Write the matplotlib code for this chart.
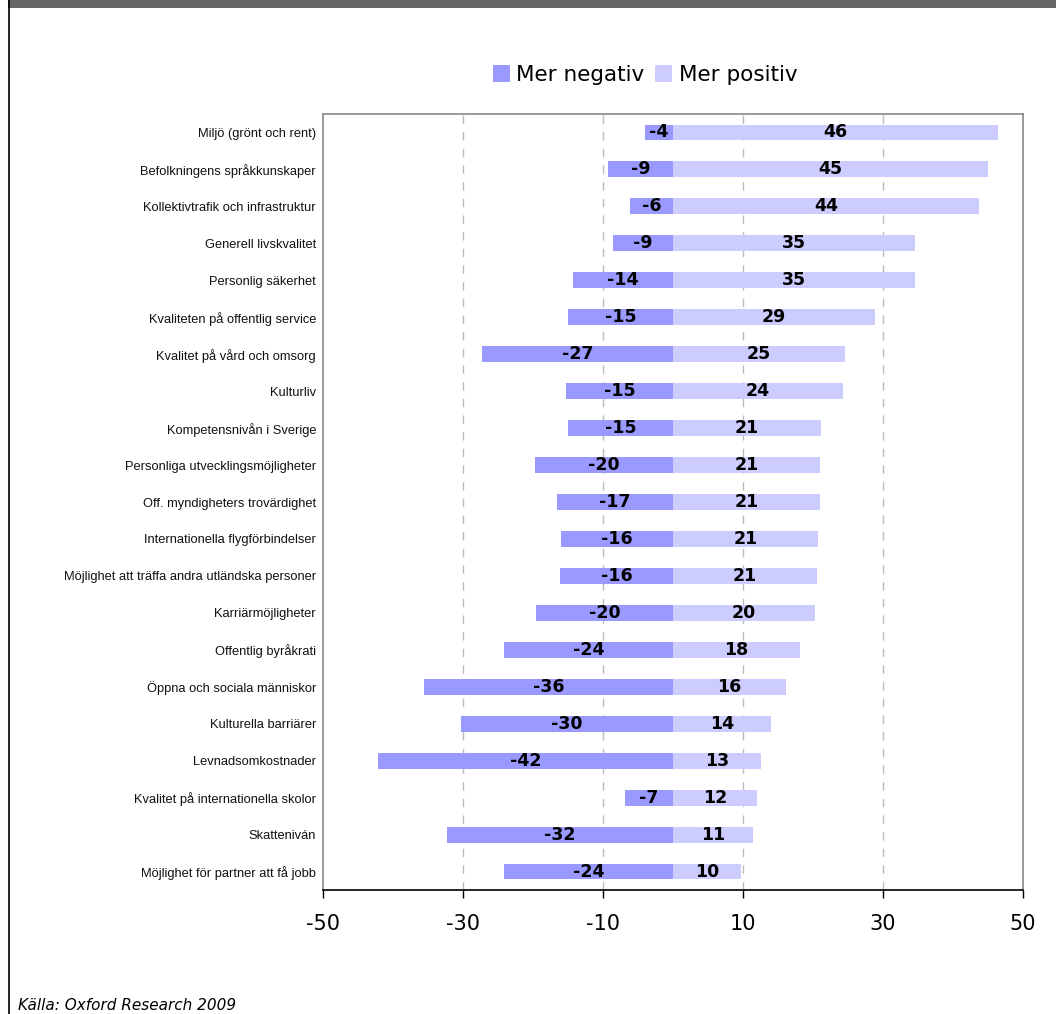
import matplotlib
matplotlib.use("Agg")
import matplotlib.pyplot as plt
from matplotlib.patches import Rectangle
from matplotlib.lines import Line2D

categories = [
    "Miljö (grönt och rent)",
    "Befolkningens språkkunskaper",
    "Kollektivtrafik och infrastruktur",
    "Generell livskvalitet",
    "Personlig säkerhet",
    "Kvaliteten på offentlig service",
    "Kvalitet på vård och omsorg",
    "Kulturliv",
    "Kompetensnivån i Sverige",
    "Personliga utvecklingsmöjligheter",
    "Off. myndigheters trovärdighet",
    "Internationella flygförbindelser",
    "Möjlighet att träffa andra utländska personer",
    "Karriärmöjligheter",
    "Offentlig byråkrati",
    "Öppna och sociala människor",
    "Kulturella barriärer",
    "Levnadsomkostnader",
    "Kvalitet på internationella skolor",
    "Skatteniván",
    "Möjlighet för partner att få jobb",
]
negative = [-4.0, -9.3, -6.1, -8.6, -14.3, -15.0, -27.3, -15.3, -15.0, -19.7, -16.6,
            -16.0, -16.1, -19.6, -24.1, -35.6, -30.3, -42.1, -6.9, -32.3, -24.1]
positive = [46.4, 45.0, 43.7, 34.6, 34.6, 28.9, 24.6, 24.3, 21.1, 21.0, 21.0,
            20.7, 20.6, 20.3, 18.1, 16.1, 14.0, 12.6, 12.0, 11.4, 9.7]
xticks = [-50, -30, -10, 10, 30, 50]

col_neg = "#9999ff"
col_pos = "#ccccff"

fig = plt.figure(figsize=(10.56, 10.14), dpi=100)
W, H = 1056, 1014

# top band and left border
fig.patches.append(Rectangle((8 / W, 1 - 8 / H), 1 - 8 / W, 8 / H, transform=fig.transFigure,
                             facecolor="#666666", edgecolor="none"))
fig.lines.append(Line2D([8.5 / W, 8.5 / W], [0, 1], transform=fig.transFigure,
                        color="black", lw=1.2))

ax = fig.add_axes([323 / W, 1 - 890 / H, 700 / W, (890 - 114) / H])
y = list(range(len(categories)))
h = 0.43
ax.barh(y, negative, height=h, color=col_neg, label="Mer negativ", zorder=3)
ax.barh(y, positive, height=h, color=col_pos, label="Mer positiv", zorder=3)

for i, (n, p) in enumerate(zip(negative, positive)):
    ax.text(n / 2, i, f"{round(n)}", ha="center", va="center", fontsize=12.5,
            fontweight="bold", family="DejaVu Sans", zorder=4)
    ax.text(p / 2, i, f"{round(p)}", ha="center", va="center", fontsize=12.5,
            fontweight="bold", family="DejaVu Sans", zorder=4)

ax.set_xlim(-50, 50)
ax.set_ylim(len(categories) - 0.5, -0.5)
ax.set_xticks(xticks)
ax.set_xticklabels([str(t) for t in xticks], fontsize=15, family="DejaVu Sans")
ax.set_yticks(y)
ax.set_yticklabels(categories, fontsize=9.3, family="Liberation Sans", color="#111111")
ax.tick_params(axis="y", length=0, pad=5)
ax.tick_params(axis="x", direction="out", length=6, width=1, color="black", pad=11)
for t in xticks[1:-1]:
    ax.axvline(t, color="#bbbbbb", lw=1, ls=(0, (6, 6)), zorder=1)
for s in ["left", "top", "right"]:
    ax.spines[s].set_color("#888888")
    ax.spines[s].set_linewidth(1.2)
ax.spines["bottom"].set_color("black")
ax.spines["bottom"].set_linewidth(1.2)

leg = fig.legend(loc="center", bbox_to_anchor=(645 / W, 1 - 75 / H), ncol=2, frameon=False,
                 handlelength=0.8, handleheight=0.8, handletextpad=0.3,
                 columnspacing=0.5, prop={"family": "DejaVu Sans", "size": 15.5})

fig.text(18 / W, 1 - 1006 / H, "Källa: Oxford Research 2009", fontsize=11, style="italic",
         family="DejaVu Sans", va="center", ha="left")

fig.savefig("out.png", dpi=100)
